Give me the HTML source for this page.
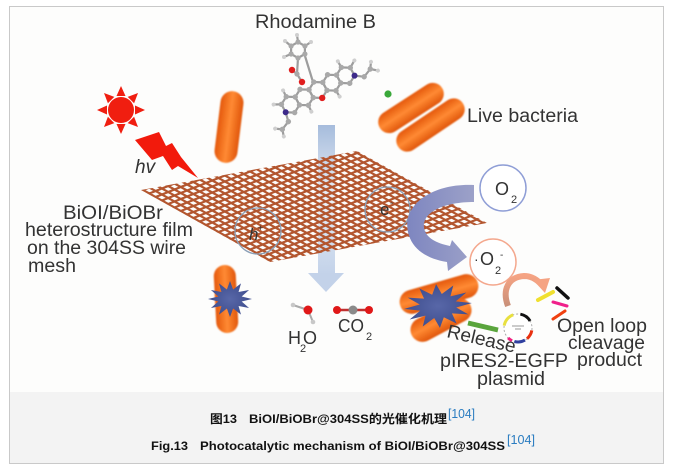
<!DOCTYPE html>
<html><head><meta charset="utf-8"><style>
html,body{margin:0;padding:0;background:#fff;}
svg{display:block;}
text{font-family:"Liberation Sans","Noto Sans CJK SC",sans-serif;}
</style></head><body>
<svg width="674" height="472" viewBox="0 0 674 472" xmlns="http://www.w3.org/2000/svg">
<defs>
<linearGradient id="bv" x1="0" y1="0" x2="1" y2="0">
<stop offset="0" stop-color="#e4580c"/><stop offset="0.5" stop-color="#ff8a33"/><stop offset="1" stop-color="#e0560b"/>
</linearGradient>
<linearGradient id="bh" x1="0" y1="0" x2="0" y2="1">
<stop offset="0" stop-color="#e4580c"/><stop offset="0.5" stop-color="#ff8a33"/><stop offset="1" stop-color="#e0560b"/>
</linearGradient>
<linearGradient id="shaft" x1="0" y1="0" x2="0" y2="1">
<stop offset="0" stop-color="#a6bcdc"/><stop offset="0.5" stop-color="#eef3f9"/><stop offset="0.75" stop-color="#d3dfef"/><stop offset="1" stop-color="#c3d2e9"/>
</linearGradient>
<linearGradient id="purp" x1="0" y1="0" x2="1" y2="0">
<stop offset="0" stop-color="#7e86c0"/><stop offset="1" stop-color="#9ca1c8"/>
</linearGradient>
<linearGradient id="salm" x1="0" y1="1" x2="0" y2="0">
<stop offset="0" stop-color="#c99079"/><stop offset="1" stop-color="#f5a383"/>
</linearGradient>
<radialGradient id="star" cx="0.5" cy="0.5" r="0.5">
<stop offset="0" stop-color="#5867a8"/><stop offset="1" stop-color="#3f4e8e"/>
</radialGradient>
<filter id="soft" x="-20%" y="-20%" width="140%" height="140%"><feGaussianBlur stdDeviation="0.8"/></filter>
<clipPath id="meshclip"><polygon points="141,190 357,151 487,223 270,262"/></clipPath>
<polygon id="st" points="1,0 .531,.142 .866,.5 .389,.389 .5,.866 .142,.531 0,1 -.142,.531 -.5,.866 -.389,.389 -.866,.5 -.531,.142 -1,0 -.531,-.142 -.866,-.5 -.389,-.389 -.5,-.866 -.142,-.531 0,-1 .142,-.531 .5,-.866 .389,-.389 .866,-.5 .531,-.142"/>
</defs>

<!-- frame -->
<rect x="9.5" y="6.5" width="654" height="457" fill="#fdfdfc" stroke="#c9c9c9" stroke-width="1"/>
<rect x="10" y="392" width="653" height="71" fill="#f3f3f3"/>

<!-- sun -->
<g fill="#f01e10">
<circle cx="121" cy="110" r="13"/>
<polygon points="145,110 135,105.5 135,114.5"/>
<polygon points="121,134 116.5,124 125.5,124"/>
<polygon points="97,110 107,105.5 107,114.5"/>
<polygon points="121,86 116.5,96 125.5,96"/>
<polygon points="138,127 127.7,123.1 134.1,116.7"/>
<polygon points="104,127 114.3,123.1 107.9,116.7"/>
<polygon points="104,93 107.9,103.3 114.3,96.9"/>
<polygon points="138,93 134.1,103.3 127.7,96.9"/>
</g>
<!-- lightning -->
<polygon points="135,140 159,132 166,146 172,143 181,157 198,178 178,166 172,170 163,156 152,160" fill="#f21a0c"/>
<text x="135" y="173" font-size="19" font-style="italic" fill="#333">hv</text>

<!-- bacteria -->
<g filter="url(#soft)">
<rect x="217.5" y="91" width="23" height="72" rx="11.5" fill="url(#bv)" transform="rotate(7 229 127)"/>
<rect x="374" y="97" width="74" height="22" rx="11" fill="url(#bh)" transform="rotate(-33 411 108)"/>
<rect x="391.5" y="114" width="78" height="22" rx="11" fill="url(#bh)" transform="rotate(-34 430.5 125)"/>
<rect x="215" y="265" width="22" height="68" rx="11" fill="url(#bv)" transform="rotate(-3 226 299)"/>
<rect x="398.5" y="282" width="81" height="24" rx="12" fill="url(#bh)" transform="rotate(-16 439 294)"/>
<rect x="408" y="308" width="66" height="24" rx="12" fill="url(#bh)" transform="rotate(-28 441 320)"/>
</g>

<!-- molecule -->
<g stroke="#9d9d9d" stroke-width="2.2" fill="none">
<line x1="305" y1="56" x2="313" y2="82"/>
<line x1="298" y1="58" x2="297" y2="74"/>
<line x1="297" y1="74" x2="292" y2="70"/>
<line x1="297" y1="74" x2="302" y2="82"/>
<polygon points="304.9,54 298,58 291.1,54 291.1,46 298,42 304.9,46"/>
<line x1="291" y1="46" x2="285" y2="41"/>
<line x1="298" y1="42" x2="297" y2="35"/>
<line x1="305" y1="46" x2="311" y2="42"/>
<line x1="291" y1="54" x2="284" y2="57"/>
</g>
<g transform="translate(318,90) rotate(-28)">
<g stroke="#9d9d9d" stroke-width="2.2" fill="none">
<polygon points="-23.4,4.5 -31.2,9 -39,4.5 -39,-4.5 -31.2,-9 -23.4,-4.5"/>
<polygon points="-7.8,4.5 -15.6,9 -23.4,4.5 -23.4,-4.5 -15.6,-9 -7.8,-4.5"/>
<polygon points="7.8,4.5 0,9 -7.8,4.5 -7.8,-4.5 0,-9 7.8,-4.5"/>
<polygon points="23.4,4.5 15.6,9 7.8,4.5 7.8,-4.5 15.6,-9 23.4,-4.5"/>
<polygon points="39,4.5 31.2,9 23.4,4.5 23.4,-4.5 31.2,-9 39,-4.5"/>
<polyline points="39,4.5 47,10 56,6"/>
<polyline points="-39,4.5 -41,14 -50,18"/>
<line x1="-39" y1="-4.5" x2="-46" y2="-8"/>
<line x1="-31.2" y1="-9" x2="-31" y2="-16"/>
<line x1="31.2" y1="-9" x2="31" y2="-16"/>
<line x1="39" y1="-4.5" x2="46" y2="-9"/>
<line x1="15.6" y1="9" x2="16" y2="16"/>
<line x1="-15.6" y1="9" x2="-16" y2="16"/>
<line x1="56" y1="6" x2="60" y2="0"/>
<line x1="56" y1="6" x2="62" y2="11"/>
<line x1="-50" y1="18" x2="-56" y2="14"/>
<line x1="-50" y1="18" x2="-52" y2="25"/>
</g>
<g fill="#a9a9a9">
<circle cx="-23.4" cy="4.5" r="2.7"/><circle cx="-31.2" cy="9" r="2.7"/><circle cx="-39" cy="-4.5" r="2.7"/><circle cx="-31.2" cy="-9" r="2.7"/><circle cx="-23.4" cy="-4.5" r="2.7"/>
<circle cx="-15.6" cy="9" r="2.7"/><circle cx="-7.8" cy="4.5" r="2.7"/><circle cx="-7.8" cy="-4.5" r="2.7"/><circle cx="-15.6" cy="-9" r="2.7"/>
<circle cx="0" cy="-9" r="2.7"/><circle cx="7.8" cy="4.5" r="2.7"/><circle cx="7.8" cy="-4.5" r="2.7"/>
<circle cx="15.6" cy="9" r="2.7"/><circle cx="15.6" cy="-9" r="2.7"/><circle cx="23.4" cy="4.5" r="2.7"/><circle cx="23.4" cy="-4.5" r="2.7"/>
<circle cx="31.2" cy="9" r="2.7"/><circle cx="31.2" cy="-9" r="2.7"/><circle cx="39" cy="-4.5" r="2.7"/>
<circle cx="47" cy="10" r="2.7"/><circle cx="56" cy="6" r="2.7"/><circle cx="-41" cy="14" r="2.7"/><circle cx="-50" cy="18" r="2.7"/>
</g>
<g fill="#cfcfcf">
<circle cx="-46" cy="-8" r="2"/><circle cx="-31" cy="-16" r="2"/><circle cx="31" cy="-16" r="2"/><circle cx="46" cy="-9" r="2"/>
<circle cx="16" cy="16" r="2"/><circle cx="-16" cy="16" r="2"/><circle cx="60" cy="0" r="2"/><circle cx="62" cy="11" r="2"/>
<circle cx="-56" cy="14" r="2"/><circle cx="-52" cy="25" r="2"/>
</g>
<circle cx="0" cy="9" r="3.2" fill="#e01e1e"/>
<circle cx="39" cy="4.5" r="3" fill="#3d2a8a"/>
<circle cx="-39" cy="4.5" r="3" fill="#3d2a8a"/>
</g>
<g fill="#a9a9a9">
<circle cx="304.9" cy="54" r="2.6"/><circle cx="298" cy="58" r="2.6"/><circle cx="291.1" cy="54" r="2.6"/><circle cx="291.1" cy="46" r="2.6"/><circle cx="298" cy="42" r="2.6"/><circle cx="304.9" cy="46" r="2.6"/><circle cx="297" cy="74" r="2.6"/>
</g>
<g fill="#cfcfcf"><circle cx="285" cy="41" r="2"/><circle cx="297" cy="35" r="2"/><circle cx="311" cy="42" r="2"/><circle cx="284" cy="57" r="2"/></g>
<circle cx="292" cy="70" r="3.2" fill="#e01e1e"/>
<circle cx="302" cy="82" r="3.2" fill="#e01e1e"/>
<circle cx="388" cy="94" r="3.6" fill="#3aa83a"/>

<!-- vertical arrow -->
<rect x="318" y="125" width="17" height="150" fill="url(#shaft)"/>
<polygon points="308,273 344,273 326,292" fill="#c3d2e9"/>

<!-- mesh -->
<g clip-path="url(#meshclip)">
<g transform="matrix(6.3,3.5,6.3,-2.5,143,190)">
<path vector-effect="non-scaling-stroke" stroke="#b3562f" stroke-width="2.2" fill="none" d="M-1,0H30M-1,1H30M-1,2H30M-1,3H30M-1,4H30M-1,5H30M-1,6H30M-1,7H30M-1,8H30M-1,9H30M-1,10H30M-1,11H30M-1,12H30M-1,13H30M-1,14H30M-1,15H30M-1,16H30M-1,17H30M-1,18H30M-1,19H30M-1,20H30M-1,21H30M-1,22H30M-1,23H30M-1,24H30M-1,25H30M-1,26H30M-1,27H30
M0,-1V28M1,-1V28M2,-1V28M3,-1V28M4,-1V28M5,-1V28M6,-1V28M7,-1V28M8,-1V28M9,-1V28M10,-1V28M11,-1V28M12,-1V28M13,-1V28M14,-1V28M15,-1V28M16,-1V28M17,-1V28M18,-1V28M19,-1V28M20,-1V28M21,-1V28M22,-1V28M23,-1V28M24,-1V28M25,-1V28M26,-1V28M27,-1V28M28,-1V28M29,-1V28"/>
</g>
</g>

<!-- h+ and e- circles -->
<circle cx="258" cy="231" r="23" fill="none" stroke="#8a9fb6" stroke-width="1.3"/>
<text x="249" y="240" font-size="17" font-style="italic" fill="#333">h</text>
<text x="258" y="231" font-size="9" fill="#333">+</text>
<circle cx="387.5" cy="209.5" r="22.5" fill="none" stroke="#8a9fb6" stroke-width="1.3"/>
<text x="380" y="215" font-size="17" fill="#333">e</text>
<text x="390" y="206" font-size="10" fill="#333">-</text>

<!-- purple curved arrow -->
<path d="M474,185 C432,183 402,205 408,232 C412,250 428,259 447,262 L448,271 L467,257 L452,240 L450,246 C436,243 426,238 424,228 C422,212 444,202 474,202 Z" fill="url(#purp)"/>

<!-- O2 circle -->
<circle cx="503" cy="188" r="23" fill="#fff" stroke="#8f9ed6" stroke-width="1.5"/>
<text x="495" y="195" font-size="18" fill="#333">O</text>
<text x="511" y="203" font-size="11" fill="#333">2</text>

<!-- O2- circle -->
<circle cx="493" cy="262" r="23" fill="#fff" stroke="#f4a88e" stroke-width="1.5"/>
<text x="474" y="264" font-size="14" fill="#333">·</text>
<text x="480" y="265" font-size="18" fill="#333">O</text>
<text x="495" y="274" font-size="11" fill="#333">2</text>
<text x="500" y="258" font-size="10" fill="#333">-</text>

<!-- stars -->
<use href="#st" fill="url(#star)" transform="translate(230,299) scale(22,18)"/>
<use href="#st" fill="url(#star)" transform="translate(438,306) rotate(-5) scale(34,22)"/>

<!-- salmon arrow -->
<path d="M508,306 C502,290 508,277 524,276 C531,276 536,279 540,283" fill="none" stroke="url(#salm)" stroke-width="6"/>
<polygon points="533,280 550,278 545,293" fill="#f5a383"/>

<!-- cleavage bars -->
<line x1="538" y1="300" x2="553" y2="292" stroke="#f0e030" stroke-width="4" stroke-linecap="round"/>
<line x1="557" y1="288" x2="568" y2="298" stroke="#111" stroke-width="3.5" stroke-linecap="round"/>
<line x1="553" y1="302" x2="567" y2="306" stroke="#f0208a" stroke-width="3" stroke-linecap="round"/>
<line x1="553" y1="319" x2="565" y2="311" stroke="#f04010" stroke-width="3" stroke-linecap="round"/>

<!-- green arrow -->
<line x1="468" y1="323" x2="498" y2="330" stroke="#5aa53c" stroke-width="5"/>

<!-- plasmid -->
<circle cx="518" cy="328" r="14" fill="#fff" stroke="#aaa" stroke-width="1" stroke-dasharray="2 2"/>
<g fill="none" stroke-width="3">
<path d="M504.2,325.6 A14,14 0 0 1 513.2,314.8" stroke="#e8e040"/>
<path d="M520.4,314.2 A14,14 0 0 1 530.1,321" stroke="#111"/>
<path d="M531.8,330.4 A14,14 0 0 1 527,338.7" stroke="#e83010"/>
<path d="M525,340.1 A14,14 0 0 1 514.4,341.5" stroke="#3040a0"/>
<path d="M512.1,340.7 A14,14 0 0 1 508.1,337.9" stroke="#f02080"/>
</g>
<line x1="512" y1="326" x2="524" y2="326" stroke="#999" stroke-width="1"/>
<line x1="515" y1="329" x2="521" y2="329" stroke="#999" stroke-width="1"/>

<!-- H2O & CO2 -->
<line x1="293" y1="305" x2="308" y2="310" stroke="#aaa" stroke-width="2"/>
<line x1="308" y1="310" x2="313" y2="322" stroke="#aaa" stroke-width="2"/>
<circle cx="293" cy="305" r="2.3" fill="#c8c8c8"/>
<circle cx="313" cy="322" r="2.3" fill="#c8c8c8"/>
<circle cx="308" cy="310" r="4.5" fill="#e01818"/>
<line x1="337" y1="310" x2="369" y2="310" stroke="#c03030" stroke-width="2.5"/>
<circle cx="337" cy="310" r="4" fill="#e01818"/>
<circle cx="353" cy="310" r="4.5" fill="#8a8a8a"/>
<circle cx="369" cy="310" r="4" fill="#e01818"/>
<text x="288" y="344" font-size="18" fill="#333">H</text>
<text x="300" y="352" font-size="11" fill="#333">2</text>
<text x="303" y="344" font-size="18" fill="#333">O</text>
<text x="338" y="332" font-size="18" fill="#333" textLength="26" lengthAdjust="spacingAndGlyphs">CO</text>
<text x="366" y="340" font-size="11" fill="#333">2</text>

<!-- labels -->
<g fill="#333" font-size="19">
<text x="255" y="28" textLength="121" lengthAdjust="spacingAndGlyphs">Rhodamine B</text>
<text x="467" y="122" textLength="111" lengthAdjust="spacingAndGlyphs">Live bacteria</text>
<text x="63" y="219" textLength="100" lengthAdjust="spacingAndGlyphs">BiOI/BiOBr</text>
<text x="25" y="236" textLength="168" lengthAdjust="spacingAndGlyphs">heterostructure film</text>
<text x="27" y="254" textLength="159" lengthAdjust="spacingAndGlyphs">on the 304SS wire</text>
<text x="28" y="272" textLength="48" lengthAdjust="spacingAndGlyphs">mesh</text>
<text x="446" y="337" transform="rotate(13 446 337)" textLength="70" lengthAdjust="spacingAndGlyphs">Release</text>
<text x="440" y="367" textLength="128" lengthAdjust="spacingAndGlyphs">pIRES2-EGFP</text>
<text x="477" y="385" textLength="68" lengthAdjust="spacingAndGlyphs">plasmid</text>
<text x="557" y="332" textLength="90" lengthAdjust="spacingAndGlyphs">Open loop</text>
<text x="568" y="349" textLength="77" lengthAdjust="spacingAndGlyphs">cleavage</text>
<text x="577" y="366" textLength="65" lengthAdjust="spacingAndGlyphs">product</text>
</g>

<!-- caption -->
<g font-weight="bold" font-size="12" fill="#111">
<text x="210" y="423" textLength="27" lengthAdjust="spacingAndGlyphs">图13</text>
<text x="249" y="423" textLength="198" lengthAdjust="spacingAndGlyphs">BiOI/BiOBr@304SS的光催化机理</text>
<text x="151" y="450" textLength="37" lengthAdjust="spacingAndGlyphs">Fig.13</text>
<text x="200" y="450" textLength="305" lengthAdjust="spacingAndGlyphs">Photocatalytic mechanism of BiOI/BiOBr@304SS</text>
</g>
<g font-size="13" fill="#2a7cc0">
<text x="448" y="418" textLength="27" lengthAdjust="spacingAndGlyphs">[104]</text>
<text x="507" y="444" textLength="28" lengthAdjust="spacingAndGlyphs">[104]</text>
</g>
</svg>
</body></html>
